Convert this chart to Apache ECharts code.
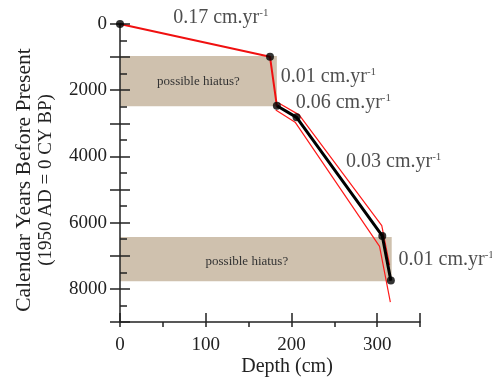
<!DOCTYPE html>
<html>
<head>
<meta charset="utf-8">
<script src="https://cdn.jsdelivr.net/npm/echarts@6/dist/echarts.min.js"></script>
<style>
  html, body { margin: 0; padding: 0; background: #fff; }
  #chart { width: 492px; height: 378px; }
</style>
</head>
<body>
<div id="chart"></div>
<script>
// dated points: depth (cm) and age (cal yr BP)
const depths = [0, 175, 183, 206, 306, 316]
const ages = [0, 990, 2470, 2820, 6400, 7750]

// red fitted line over the upper part
const topFit = [[0, 0], [175, 990], [183, 2470]]
// red envelope round the lower part
const upperEnv = [[185.6, 2392], [209, 2745], [305.4, 6092], [314.5, 7280]]
const lowerEnv = [[181.7, 2594], [204.3, 2965], [302.8, 6717], [315.4, 8400]]

// hiatus boxes: [depthMax, ageTop, ageBottom]
const hiatusBoxes = [[183, 965, 2485], [317, 6433, 7771]]
const hiatusText = 'possible hiatus?'

// rate labels: [depth, age, text]
const rateLabels = [
	[62, -180, '0.17 cm.yr'],
	[187.6, 1600, '0.01 cm.yr'],
	[205, 2373, '0.06 cm.yr'],
	[263.8, 4171, '0.03 cm.yr'],
	[325, 7117, '0.01 cm.yr'],
]

const xTicks = [0, 100, 200, 300]
const yTicks = [0, 2000, 4000, 6000, 8000]

const serif = 'Liberation Serif'
const ink = '#222'
const gridBox = { left: 120, right: 72, top: 24, bottom: 56 }

const chart = echarts.init(document.getElementById('chart'))

const xBase = {
	type: 'value',
	min: 0,
	max: 350,
	interval: 100,
	position: 'bottom',
	z: 10,
	splitLine: { show: false },
}
const yBase = {
	type: 'value',
	min: 0,
	max: 9000,
	interval: 1000,
	inverse: true,
	position: 'left',
	z: 10,
	splitLine: { show: false },
}
const tickLine = { color: ink, width: 1.5 }

const points = depths.map((d, i) => [d, ages[i]])

chart.setOption({
	backgroundColor: '#fff',
	animation: false,
	textStyle: { fontFamily: serif },
	// second grid sits on the first one and only carries the inner halves of the ticks
	grid: [{ ...gridBox }, { ...gridBox }],
	xAxis: [
		{
			...xBase,
			gridIndex: 0,
			axisLine: { onZero: false, lineStyle: tickLine },
			axisTick: { length: 5, lineStyle: tickLine },
			minorTick: { show: true, splitNumber: 2, length: 5, lineStyle: tickLine },
			axisLabel: {
				margin: 14,
				fontSize: 19,
				fontFamily: serif,
				color: ink,
				formatter: (v) => (xTicks.includes(v) ? String(v) : ''),
			},
		},
		{
			...xBase,
			gridIndex: 1,
			axisLine: { show: false, onZero: false },
			axisTick: { inside: true, length: 9, lineStyle: tickLine },
			axisLabel: { show: false },
		},
	],
	yAxis: [
		{
			...yBase,
			gridIndex: 0,
			axisLine: { onZero: false, lineStyle: tickLine },
			axisTick: { length: 10, lineStyle: tickLine },
			axisLabel: {
				margin: 13,
				fontSize: 19,
				fontFamily: serif,
				color: ink,
				formatter: (v) => (yTicks.includes(v) ? String(v) : ''),
			},
		},
		{
			...yBase,
			gridIndex: 1,
			axisLine: { show: false, onZero: false },
			axisTick: { inside: true, length: 10, lineStyle: tickLine },
			minorTick: { show: true, splitNumber: 2, length: 7, lineStyle: tickLine },
			axisLabel: { show: false },
		},
	],
	graphic: [
		{
			type: 'text',
			x: 24,
			y: 180,
			rotation: Math.PI / 2,
			style: {
				text: 'Calendar Years Before Present',
				font: '21.5px ' + serif,
				fill: ink,
				align: 'center',
				verticalAlign: 'middle',
			},
		},
		{
			type: 'text',
			x: 46,
			y: 180,
			rotation: Math.PI / 2,
			style: {
				text: '(1950 AD = 0 CY BP)',
				font: '19px ' + serif,
				fill: ink,
				align: 'center',
				verticalAlign: 'middle',
			},
		},
		{
			type: 'text',
			x: 287,
			y: 367,
			style: {
				text: 'Depth (cm)',
				font: '20px ' + serif,
				fill: ink,
				align: 'center',
				verticalAlign: 'middle',
			},
		},
	],
	series: [
		{
			type: 'line',
			data: [],
			z: 1,
			markArea: {
				silent: true,
				itemStyle: { color: '#cfc1ae' },
				label: {
					show: true,
					position: 'inside',
					fontSize: 13,
					fontFamily: serif,
					color: '#333',
				},
				data: hiatusBoxes.map((b, i) => [
					{
						name: hiatusText,
						xAxis: 0,
						yAxis: b[1],
						label: i === 1 ? { offset: [-9, 2] } : {},
					},
					{ xAxis: b[0], yAxis: b[2] },
				]),
			},
		},
		{
			type: 'line',
			data: lowerEnv,
			symbol: 'none',
			lineStyle: { color: '#ff1a1a', width: 1.2 },
			z: 3,
		},
		{
			type: 'line',
			data: upperEnv,
			symbol: 'none',
			lineStyle: { color: '#ff1a1a', width: 1.2 },
			z: 3,
		},
		{
			type: 'line',
			data: points.slice(2),
			symbol: 'none',
			lineStyle: { color: '#000', width: 3 },
			z: 4,
		},
		{
			type: 'line',
			data: topFit,
			symbol: 'none',
			lineStyle: { color: '#f01010', width: 2 },
			z: 5,
		},
		{
			type: 'scatter',
			data: points,
			symbolSize: 8,
			itemStyle: { color: '#000' },
			z: 12,
		},
		{
			type: 'scatter',
			data: rateLabels,
			symbolSize: 0,
			clip: false,
			silent: true,
			z: 12,
			label: {
				show: true,
				position: 'right',
				distance: 0,
				formatter: (p) => '{r|' + p.data[2] + '}{s|-1}',
				rich: {
					r: { fontSize: 20, fontFamily: serif, color: ink },
					s: { fontSize: 11, fontFamily: serif, color: ink, verticalAlign: 'top' },
				},
			},
		},
	],
})
</script>
</body>
</html>
